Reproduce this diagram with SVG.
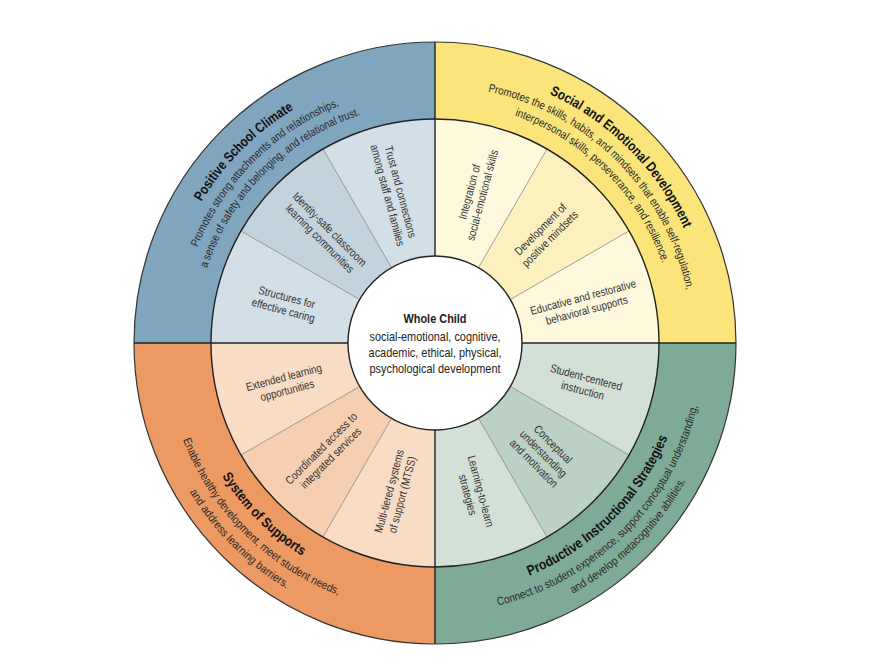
<svg xmlns="http://www.w3.org/2000/svg" xmlns:xlink="http://www.w3.org/1999/xlink" width="891" height="670" viewBox="0 0 891 670">
<style>
.title{font-family:"Liberation Sans",Arial,sans-serif;font-weight:bold;font-size:14px;fill:#111;}
.desc{font-family:"Liberation Sans",Arial,sans-serif;font-size:11.5px;fill:#2a2a2a;}
.seg{font-family:"Liberation Sans",Arial,sans-serif;font-size:11.5px;fill:#333;}
.ctr{font-family:"Liberation Sans",Arial,sans-serif;font-size:13px;fill:#222;}
.div{stroke:#8a8a8a;stroke-width:0.8;fill:none;}
.edge{stroke:#222;stroke-width:1.4;fill:none;}
</style>
<defs>
<path id="tl1" d="M171.30 413.66 A273 273 0 0 1 505.66 79.30"/>
<path id="tl2" d="M187.72 409.26 A256 256 0 0 1 501.26 95.72"/>
<path id="tl3" d="M203.18 405.12 A240 240 0 0 1 497.12 111.18"/>
<path id="tr1" d="M364.08 78.34 A274 274 0 0 1 699.66 413.92"/>
<path id="tr2" d="M368.48 94.76 A257 257 0 0 1 683.24 409.52"/>
<path id="tr3" d="M372.62 110.21 A241 241 0 0 1 667.79 405.38"/>
<path id="bl1" d="M192.55 278.04 A251 251 0 0 0 499.96 585.45"/>
<path id="bl2" d="M174.20 273.12 A270 270 0 0 0 504.88 603.80"/>
<path id="bl3" d="M157.78 268.72 A287 287 0 0 0 509.28 620.22"/>
<path id="br1" d="M370.04 585.45 A251 251 0 0 0 677.45 278.04"/>
<path id="br2" d="M365.12 603.80 A270 270 0 0 0 695.80 273.12"/>
<path id="br3" d="M360.98 619.26 A286 286 0 0 0 711.26 268.98"/>
</defs>
<rect width="891" height="670" fill="#ffffff"/>

<g id="positive-school-climate">
<path d="M435 343 L134 343 A301 301 0 0 1 435 42 Z" fill="#7fa5bf"/>
<path d="M435 343 L211 343 A224 224 0 0 1 435 119 Z" fill="#d3dfe7"/>
<path d="M435 343 L241.01 231 A224 224 0 0 1 323 149.01 Z" fill="#c3d3de"/>
<text class="title"><textPath xlink:href="#tl1" href="#tl1" startOffset="50%" text-anchor="middle" textLength="132" lengthAdjust="spacingAndGlyphs">Positive School Climate</textPath></text>
<text class="desc"><textPath xlink:href="#tl2" href="#tl2" startOffset="50%" text-anchor="middle" textLength="206" lengthAdjust="spacingAndGlyphs">Promotes strong attachments and relationships,</textPath></text>
<text class="desc"><textPath xlink:href="#tl3" href="#tl3" startOffset="50%" text-anchor="middle" textLength="225" lengthAdjust="spacingAndGlyphs">a sense of safety and belonging, and relational trust.</textPath></text>
</g>

<g id="social-emotional-development">
<path d="M435 343 L435 42 A301 301 0 0 1 736 343 Z" fill="#fbe47a"/>
<path d="M435 343 L435 119 A224 224 0 0 1 659 343 Z" fill="#fef8dc"/>
<path d="M435 343 L547 149.01 A224 224 0 0 1 628.99 231 Z" fill="#fcf0be"/>
<text class="title"><textPath xlink:href="#tr1" href="#tr1" startOffset="50%" text-anchor="middle" textLength="194" lengthAdjust="spacingAndGlyphs">Social and Emotional Development</textPath></text>
<text class="desc"><textPath xlink:href="#tr2" href="#tr2" startOffset="50%" text-anchor="middle" textLength="297" lengthAdjust="spacingAndGlyphs">Promotes the skills, habits, and mindsets that enable self-regulation,</textPath></text>
<text class="desc"><textPath xlink:href="#tr3" href="#tr3" startOffset="50%" text-anchor="middle" textLength="216" lengthAdjust="spacingAndGlyphs">interpersonal skills, perseverance, and resilience.</textPath></text>
</g>

<g id="productive-instructional-strategies">
<path d="M435 343 L736 343 A301 301 0 0 1 435 644 Z" fill="#7eab98"/>
<path d="M435 343 L659 343 A224 224 0 0 1 435 567 Z" fill="#d3e0d8"/>
<path d="M435 343 L628.99 455 A224 224 0 0 1 547 536.99 Z" fill="#bbd1c5"/>
<text class="title"><textPath xlink:href="#br1" href="#br1" startOffset="50%" text-anchor="middle" textLength="201" lengthAdjust="spacingAndGlyphs">Productive Instructional Strategies</textPath></text>
<text class="desc"><textPath xlink:href="#br2" href="#br2" startOffset="50%" text-anchor="middle" textLength="297" lengthAdjust="spacingAndGlyphs">Connect to student experience, support conceptual understanding,</textPath></text>
<text class="desc"><textPath xlink:href="#br3" href="#br3" startOffset="50%" text-anchor="middle" textLength="162" lengthAdjust="spacingAndGlyphs">and develop metacognitive abilities.</textPath></text>
</g>

<g id="system-of-supports">
<path d="M435 343 L435 644 A301 301 0 0 1 134 343 Z" fill="#ed9964"/>
<path d="M435 343 L435 567 A224 224 0 0 1 211 343 Z" fill="#f9dcc4"/>
<path d="M435 343 L323 536.99 A224 224 0 0 1 241.01 455 Z" fill="#f5cfb0"/>
<text class="title"><textPath xlink:href="#bl1" href="#bl1" startOffset="50%" text-anchor="middle" textLength="114" lengthAdjust="spacingAndGlyphs">System of Supports</textPath></text>
<text class="desc"><textPath xlink:href="#bl2" href="#bl2" startOffset="50%" text-anchor="middle" textLength="226" lengthAdjust="spacingAndGlyphs">Enable healthy development, meet student needs,</textPath></text>
<text class="desc"><textPath xlink:href="#bl3" href="#bl3" startOffset="50%" text-anchor="middle" textLength="138" lengthAdjust="spacingAndGlyphs">and address learning barriers.</textPath></text>
</g>

<g id="connectors">
<line class="div" x1="435" y1="343" x2="241.01" y2="231"/>
<line class="div" x1="435" y1="343" x2="323" y2="149.01"/>
<line class="div" x1="435" y1="343" x2="547" y2="149.01"/>
<line class="div" x1="435" y1="343" x2="628.99" y2="231"/>
<line class="div" x1="435" y1="343" x2="628.99" y2="455"/>
<line class="div" x1="435" y1="343" x2="547" y2="536.99"/>
<line class="div" x1="435" y1="343" x2="323" y2="536.99"/>
<line class="div" x1="435" y1="343" x2="241.01" y2="455"/>
<line class="edge" x1="435" y1="42" x2="435" y2="644"/>
<line class="edge" x1="134" y1="343" x2="736" y2="343"/>
<circle class="edge" cx="435" cy="343" r="224"/>
<circle cx="435" cy="343" r="301" fill="none" stroke="#333" stroke-width="1.2"/>
</g>

<g id="seg-structures" class="seg" text-anchor="middle" transform="translate(285.3 302.9) rotate(15) scale(0.84 1)">
<text x="0" y="-2">Structures for</text><text x="0" y="11.5">effective caring</text></g>
<g id="seg-identity" class="seg" text-anchor="middle" transform="translate(325.4 233.4) rotate(45) scale(0.84 1)">
<text x="0" y="-2">Identity-safe classroom</text><text x="0" y="11.5">learning communities</text></g>
<g id="seg-trust" class="seg" text-anchor="middle" transform="translate(394.9 193.3) rotate(75) scale(0.84 1)">
<text x="0" y="-2">Trust and connections</text><text x="0" y="11.5">among staff and families</text></g>

<g id="seg-integration" class="seg" text-anchor="middle" transform="translate(475.1 193.3) rotate(-75) scale(0.84 1)">
<text x="0" y="-2">Integration of</text><text x="0" y="11.5">social-emotional skills</text></g>
<g id="seg-mindsets" class="seg" text-anchor="middle" transform="translate(544.6 233.4) rotate(-45) scale(0.84 1)">
<text x="0" y="-2">Development of</text><text x="0" y="11.5">positive mindsets</text></g>
<g id="seg-educative" class="seg" text-anchor="middle" transform="translate(584.7 302.9) rotate(-15) scale(0.84 1)">
<text x="0" y="-2">Educative and restorative</text><text x="0" y="11.5">behavioral supports</text></g>

<g id="seg-student" class="seg" text-anchor="middle" transform="translate(584.7 383.1) rotate(15) scale(0.84 1)">
<text x="0" y="-2">Student-centered</text><text x="0" y="11.5">instruction</text></g>
<g id="seg-conceptual" class="seg" text-anchor="middle" transform="translate(544.6 452.6) rotate(45) scale(0.84 1)">
<text x="0" y="-8">Conceptual</text><text x="0" y="5.5">understanding</text><text x="0" y="19">and motivation</text></g>
<g id="seg-learning" class="seg" text-anchor="middle" transform="translate(475.1 492.7) rotate(75) scale(0.84 1)">
<text x="0" y="-2">Learning-to-learn</text><text x="0" y="11.5">strategies</text></g>

<g id="seg-extended" class="seg" text-anchor="middle" transform="translate(285.3 383.1) rotate(-15) scale(0.84 1)">
<text x="0" y="-2">Extended learning</text><text x="0" y="11.5">opportunities</text></g>
<g id="seg-coordinated" class="seg" text-anchor="middle" transform="translate(325.4 452.6) rotate(-45) scale(0.84 1)">
<text x="0" y="-2">Coordinated access to</text><text x="0" y="11.5">integrated services</text></g>
<g id="seg-mtss" class="seg" text-anchor="middle" transform="translate(394.9 492.7) rotate(-75) scale(0.84 1)">
<text x="0" y="-2">Multi-tiered systems</text><text x="0" y="11.5">of support (MTSS)</text></g>

<g id="whole-child">
<circle cx="435" cy="343" r="87" fill="#ffffff" stroke="#222" stroke-width="1.4"/>
<g transform="translate(435 0) scale(0.84 1)">
<text class="ctr" x="0" y="323" text-anchor="middle" font-weight="bold" font-size="15" fill="#111">Whole Child</text>
<text class="ctr" x="0" y="341" text-anchor="middle">social-emotional, cognitive,</text>
<text class="ctr" x="0" y="357" text-anchor="middle">academic, ethical, physical,</text>
<text class="ctr" x="0" y="373" text-anchor="middle">psychological development</text>
</g>
</g>
</svg>
